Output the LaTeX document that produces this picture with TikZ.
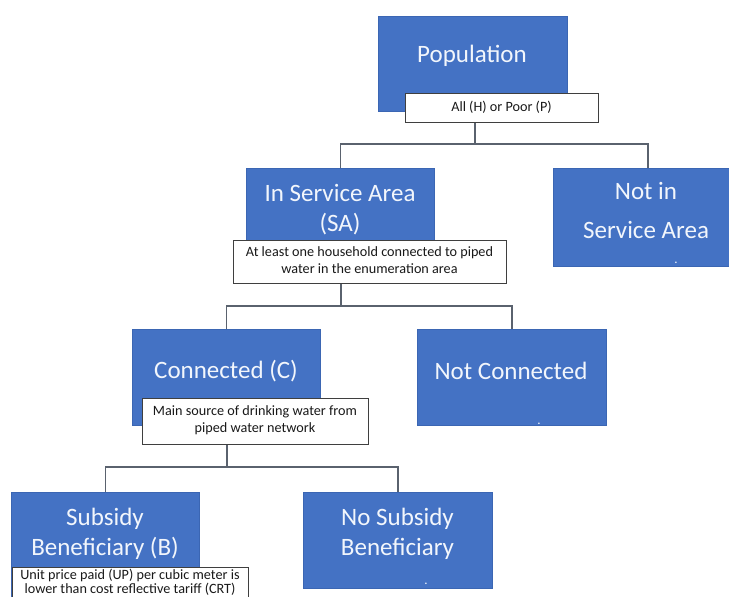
\documentclass[tikz,border=0pt]{standalone}
\usepackage{fontspec}
\setmainfont{Carlito}
\definecolor{boxblue}{HTML}{4472C4}
\definecolor{boxedge}{HTML}{3B66B3}
\definecolor{lineg}{HTML}{5A626E}
\definecolor{labedge}{HTML}{3F3F3F}
\definecolor{ttltext}{HTML}{F2F6FC}
\begin{document}
\begin{tikzpicture}[x=1pt,y=-1pt,
  bluebox/.style={fill=boxblue, draw=boxedge, line width=0.5pt, inner sep=0pt, anchor=north west},
  labbox/.style={fill=white, draw=labedge, line width=0.8pt, inner sep=0pt, anchor=north west},
  ttl/.style={text=ttltext, font=\fontsize{25}{30}\selectfont, inner sep=0pt, align=center},
  lab/.style={text=black!90, font=\fontsize{14.2}{16.5}\selectfont, inner sep=0pt, align=center},
  dotmark/.style={text=ttltext, font=\fontsize{13}{13}\selectfont, inner sep=0pt, anchor=base},
  conn/.style={draw=lineg, line width=1.5pt}]
\useasboundingbox (0,0) rectangle (729,597);

% Population
\node[bluebox, minimum width=189pt, minimum height=95pt] (pop) at (378,16) {};
\node[ttl] (popt) at (472,56) {Population};
\node[labbox, minimum width=193pt, minimum height=29pt] (poplab) at (405,93) {};
\node[lab] (poplabt) at (501.5,107.5) {All (H) or Poor (P)};

% In Service Area
\node[bluebox, minimum width=188pt, minimum height=72pt] (sa) at (246,168) {};
\node[ttl] (sat) at (340,210) {In Service Area\\(SA)};
\node[labbox, minimum width=273pt, minimum height=43pt] (salab) at (233,240) {};
\node[lab] (salabt) at (369.5,260) {At least one household connected to piped\\water in the enumeration area};

% Not in Service Area
\node[bluebox, minimum width=176pt, minimum height=98pt] (nsa) at (553,168) {};
\node[ttl] (nsat1) at (646,191) {Not in};
\node[ttl] (nsat2) at (646,230) {Service Area};
\node[dotmark] (nsad) at (676,263) {.};

% Connected
\node[bluebox, minimum width=188pt, minimum height=96pt] (con) at (132,329) {};
\node[ttl] (cont) at (226,371) {Connected (C)};
\node[labbox, minimum width=226pt, minimum height=46pt] (conlab) at (142,398) {};
\node[lab] (conlabt) at (255,420) {Main source of drinking water from\\piped water network};

% Not Connected
\node[bluebox, minimum width=189pt, minimum height=96pt] (ncon) at (417,329) {};
\node[ttl] (ncont) at (511,371) {Not Connected};
\node[dotmark] (ncond) at (539,424) {.};

% Subsidy Beneficiary
\node[bluebox, minimum width=188pt, minimum height=110pt] (sb) at (11,492) {};
\node[ttl] (sbt) at (105,534) {Subsidy\\Beneficiary (B)};
\node[labbox, minimum width=236pt, minimum height=40pt] (sblab) at (12,567) {};
\node[lab, font=\fontsize{14.2}{13.8}\selectfont] (sblabt) at (130,582.5) {Unit price paid (UP) per cubic meter is\\lower than cost reflective tariff (CRT)};

% No Subsidy Beneficiary
\node[bluebox, minimum width=189pt, minimum height=96pt] (nsb) at (303,492) {};
\node[ttl] (nsbt) at (397.5,534) {No Subsidy\\Beneficiary};
\node[dotmark] (nsbd) at (426,584) {.};

% Connectors
\coordinate (j1) at (475,144);
\coordinate (nsatop) at (648,168);
\draw[conn] (j1 |- poplab.south) -- (j1);
\draw[conn] (sa.north) |- (j1) -| (nsatop);

\coordinate (j2) at (341,306);
\draw[conn] (j2 |- salab.south) -- (j2);
\draw[conn] (con.north) |- (j2) -| (ncon.north);

\coordinate (j3) at (227,467);
\draw[conn] (j3 |- conlab.south) -- (j3);
\draw[conn] (sb.north) |- (j3) -| (nsb.north);
\end{tikzpicture}
\end{document}
